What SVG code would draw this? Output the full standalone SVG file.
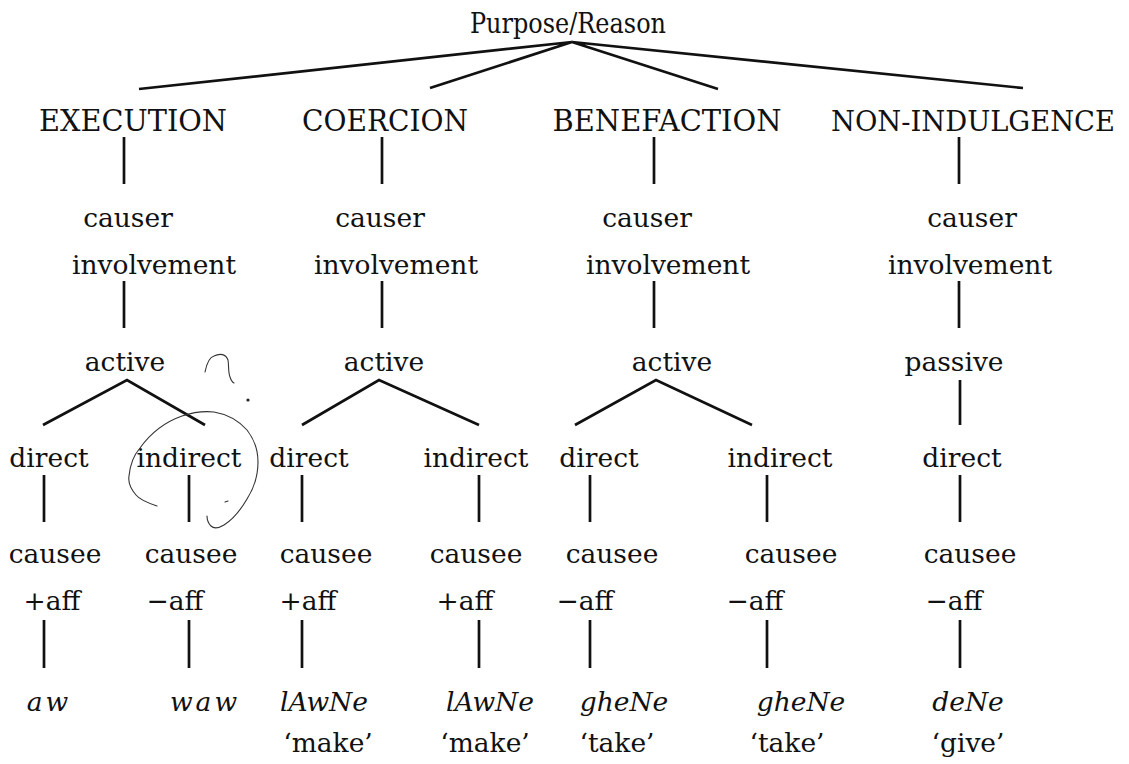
<svg xmlns="http://www.w3.org/2000/svg" width="1129" height="764" viewBox="0 0 1129 764">
  <style>
    .lbl { font-family: "DejaVu Serif", "Liberation Serif", serif; font-size: 26.5px; fill: #111; text-anchor: middle; }
    .cap { font-size: 29px; }
    .cap-long { font-size: 27.5px; }
    .root { font-size: 28px; }
    .it { font-style: italic; }
    .sp { letter-spacing: 3px; }
    .edge { stroke: #111; stroke-width: 2.7; fill: none; stroke-linecap: butt; }
    .pen { stroke: #333; stroke-width: 1.1; fill: none; stroke-linecap: round; stroke-linejoin: round; }
  </style>
  <rect width="1129" height="764" fill="#fff"/>

  <!-- tree edges -->
  <g id="connectors">
    <!-- root to the four purpose types -->
    <path class="edge" d="M572 42 L139 89 M572 42 L430 88 M572 42 L718 89 M572 42 L1023 88"/>
    <!-- type to causer involvement -->
    <path class="edge" d="M124 137 V184 M382 137 V184 M654 137 V184 M959 137 V184"/>
    <!-- causer involvement to active / passive -->
    <path class="edge" d="M124 281 V328 M382 281 V328 M654 281 V328 M959 281 V328"/>
    <!-- active splits into direct / indirect -->
    <path class="edge" d="M43 425 L127 380 L205 425 M302 425 L379 380 L479 425 M575 425 L656 380 L752 425 M960 380 V425"/>
    <!-- direct / indirect to causee -->
    <path class="edge" d="M44 475 V522 M189 475 V522 M302 475 V522 M479 475 V522 M590 475 V522 M767 475 V522 M960 475 V522"/>
    <!-- affectedness to verb -->
    <path class="edge" d="M44 620 V668 M189 620 V668 M302 620 V668 M479 620 V668 M590 620 V668 M767 620 V668 M960 620 V668"/>
  </g>

  <g id="root"><text class="lbl root" x="568" y="33" textLength="196" lengthAdjust="spacingAndGlyphs">Purpose/Reason</text></g>

  <g id="execution">
    <text class="lbl cap" x="133" y="131" textLength="188" lengthAdjust="spacingAndGlyphs">EXECUTION</text>
    <text class="lbl" x="128" y="227">causer</text>
    <text class="lbl" x="154" y="274">involvement</text>
    <text class="lbl" x="125" y="371">active</text>
  </g>
  <g id="coercion">
    <text class="lbl cap" x="385" y="131" textLength="166" lengthAdjust="spacingAndGlyphs">COERCION</text>
    <text class="lbl" x="380" y="227">causer</text>
    <text class="lbl" x="396" y="274">involvement</text>
    <text class="lbl" x="384" y="371">active</text>
  </g>
  <g id="benefaction">
    <text class="lbl cap" x="667" y="131" textLength="229" lengthAdjust="spacingAndGlyphs">BENEFACTION</text>
    <text class="lbl" x="647" y="227">causer</text>
    <text class="lbl" x="668" y="274">involvement</text>
    <text class="lbl" x="672" y="371">active</text>
  </g>
  <g id="non-indulgence">
    <text class="lbl cap-long" x="973" y="131" textLength="284" lengthAdjust="spacingAndGlyphs">NON-INDULGENCE</text>
    <text class="lbl" x="972" y="227">causer</text>
    <text class="lbl" x="970" y="274">involvement</text>
    <text class="lbl" x="954" y="371">passive</text>
  </g>

  <g id="exec-direct">
    <text class="lbl" x="49" y="467">direct</text>
    <text class="lbl" x="55" y="563">causee</text>
    <text class="lbl" x="52" y="610">+aff</text>
    <text class="lbl it sp" x="49" y="711">aw</text>
  </g>
  <g id="exec-indirect">
    <text class="lbl" x="189" y="467">indirect</text>
    <text class="lbl" x="191" y="563">causee</text>
    <text class="lbl" x="175" y="610">−aff</text>
    <text class="lbl it sp" x="205" y="711">waw</text>
  </g>
  <g id="coer-direct">
    <text class="lbl" x="309" y="467">direct</text>
    <text class="lbl" x="326" y="563">causee</text>
    <text class="lbl" x="308" y="610">+aff</text>
    <text class="lbl it" x="324" y="711">lAwNe</text>
    <text class="lbl" x="328" y="752">‘make’</text>
  </g>
  <g id="coer-indirect">
    <text class="lbl" x="476" y="467">indirect</text>
    <text class="lbl" x="476" y="563">causee</text>
    <text class="lbl" x="465" y="610">+aff</text>
    <text class="lbl it" x="490" y="711">lAwNe</text>
    <text class="lbl" x="485" y="752">‘make’</text>
  </g>
  <g id="bene-direct">
    <text class="lbl" x="599" y="467">direct</text>
    <text class="lbl" x="612" y="563">causee</text>
    <text class="lbl" x="585" y="610">−aff</text>
    <text class="lbl it" x="624" y="711">gheNe</text>
    <text class="lbl" x="617" y="752">‘take’</text>
  </g>
  <g id="bene-indirect">
    <text class="lbl" x="780" y="467">indirect</text>
    <text class="lbl" x="791" y="563">causee</text>
    <text class="lbl" x="755" y="610">−aff</text>
    <text class="lbl it" x="801" y="711">gheNe</text>
    <text class="lbl" x="787" y="752">‘take’</text>
  </g>
  <g id="nonind-direct">
    <text class="lbl" x="962" y="467">direct</text>
    <text class="lbl" x="970" y="563">causee</text>
    <text class="lbl" x="954" y="610">−aff</text>
    <text class="lbl it" x="968" y="711">deNe</text>
    <text class="lbl" x="968" y="752">‘give’</text>
  </g>

  <!-- pen annotations: query mark and loop round the indirect branch -->
  <g id="annotations">
    <path class="pen" d="M205 372 C207 362 210 357 214 356 C220 353 226 354 228 360 C229 366 228 372 230 377 C231 380 232 382 234 383"/>
    <circle cx="248" cy="400" r="1.6" fill="#222"/>
    <path class="pen" d="M157 506 C148 503 140 500 136 495 C131 489 128 482 129 476 C130 466 133 456 140 448 C150 434 165 422 182 416 C194 412 205 411 214 412 C226 414 238 420 247 430 C254 439 258 450 258 462 C258 475 254 488 247 499 C240 511 232 520 224 525 C219 528 214 529 211 526 C208 523 207 520 207 516"/>
    <path class="pen" d="M225 502 L228 501"/>
  </g>
</svg>
